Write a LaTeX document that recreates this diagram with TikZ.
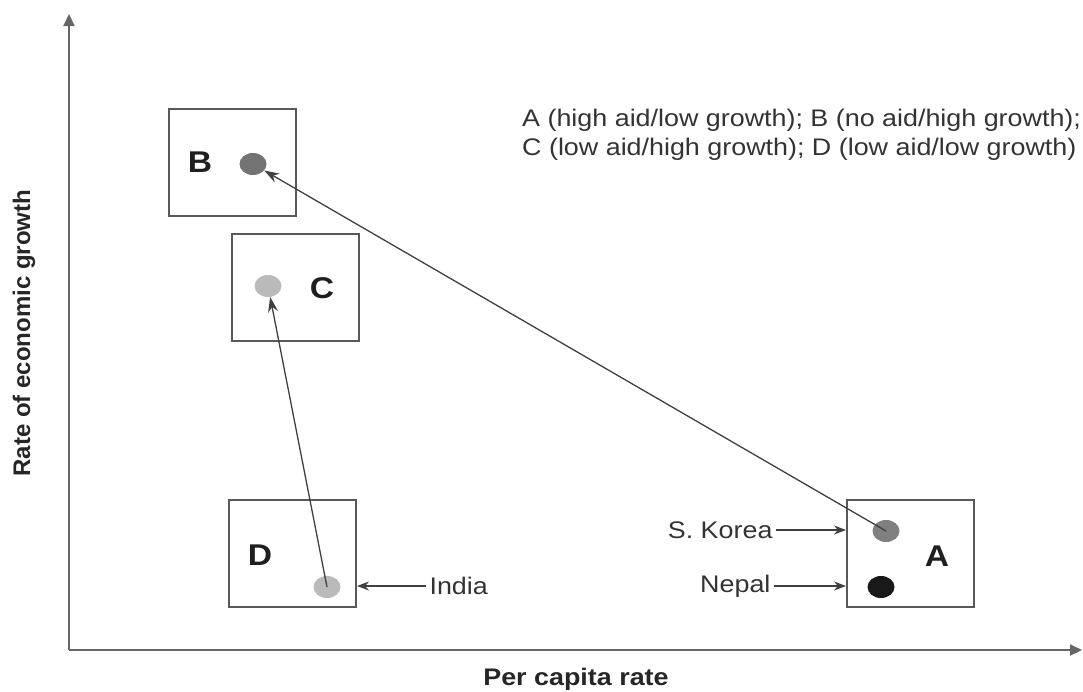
\documentclass[tikz,border=0pt]{standalone}
\usepackage{fontspec}
\setmainfont{Liberation Sans}
\newfontfamily\widesans[FakeStretch=1.12]{Liberation Sans}
\usetikzlibrary{arrows.meta,shapes.geometric}
\begin{document}
\begin{tikzpicture}[x=1pt,y=-1pt,
  box/.style={draw=black!65,line width=2pt,minimum width=127pt,minimum height=107pt,inner sep=0pt},
  dot/.style={ellipse,minimum width=27pt,minimum height=22pt,inner sep=0pt},
  big/.style={font=\widesans\fontsize{30}{32}\selectfont\bfseries,text=black!88},
  lbl/.style={font=\widesans\fontsize{24}{29}\selectfont,text=black!80},
  axis/.style={draw=black!60,line width=2pt,-{Triangle[length=12pt,width=11pt]}},
  con/.style={draw=black!75,line width=1.3pt,-{Stealth[length=15pt,width=10pt]}},
  ptr/.style={draw=black!75,line width=1.3pt,-{Stealth[length=12pt,width=9pt]}}]
\useasboundingbox (0,0) rectangle (1083,691);
% axes
\coordinate (O) at (69,650);
\coordinate (ytop) at (69,14);
\coordinate (xend) at (1082,650);
\draw[axis] (O) -- (ytop);
\draw[axis] (O) -- (xend);
\node[font=\fontsize{24}{28}\selectfont\bfseries,text=black!85,rotate=90] (ylab) at (24,333) {Rate of economic growth};
\node[font=\widesans\fontsize{24}{28}\selectfont\bfseries,text=black!85] (xlab) at (576,679) {Per capita rate};
% boxes
\node[box] (boxB) at (232.5,162.5) {};
\node[box] (boxC) at (295.5,287.5) {};
\node[box] (boxD) at (292.5,553.5) {};
\node[box] (boxA) at (910.5,553.5) {};
% letters
\node[big] (lB) at (200,162) {B};
\node[big] (lC) at (322,288) {C};
\node[big] (lD) at (260,555) {D};
\node[big] (lA) at (937,556) {A};
% dots
\node[dot,fill=black!55] (dB) at (253,164) {};
\node[dot,fill=black!27] (dC) at (268,286) {};
\node[dot,fill=black!27] (dD) at (327,587) {};
\node[dot,fill=black!50] (dK) at (886,531) {};
\node[dot,fill=black!90] (dN) at (881,587) {};
% connectors
\draw[con] (dK.center) -- (dB);
\draw[con] (dD.center) -- (dC);
% pointer labels
\node[lbl,anchor=west] (india) at (426,586) {India};
\node[lbl,anchor=east] (korea) at (776,530) {S. Korea};
\node[lbl,anchor=east] (nepal) at (774,586) {Nepal};
\draw[ptr] (india.west) -- (boxD.east |- india.west);
\draw[ptr] (korea.east) -- (boxA.west |- korea.east);
\draw[ptr] (nepal.east) -- (boxA.west |- nepal.east);
% legend
\node[lbl,anchor=north west,align=left,inner sep=0pt] (legend) at (522,109) {A (high aid/low growth); B (no aid/high growth);\\C (low aid/high growth); D (low aid/low growth)};
\end{tikzpicture}
\end{document}
